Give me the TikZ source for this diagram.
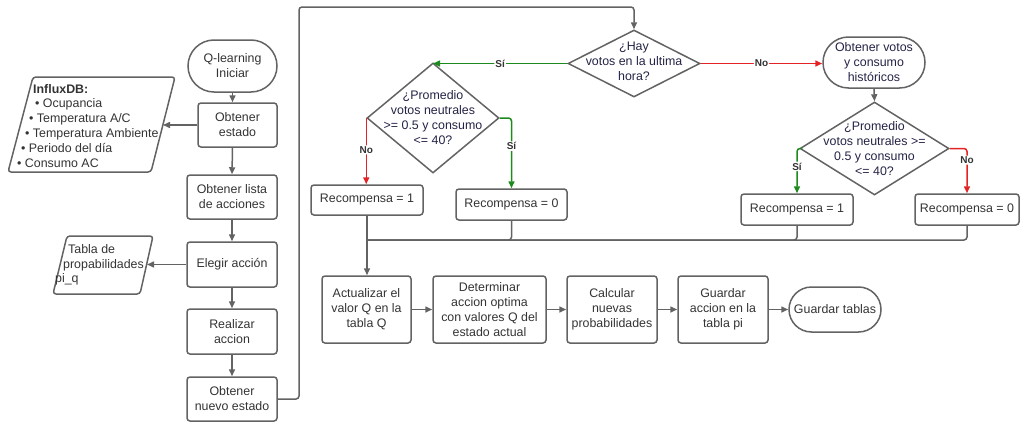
\documentclass[tikz,border=0pt]{standalone}
\usepackage{fontspec}
\setmainfont{Liberation Sans}
\usetikzlibrary{arrows.meta,shapes.geometric,shapes.misc}
\definecolor{ln}{RGB}{99,99,99}
\definecolor{tx}{RGB}{51,51,51}
\definecolor{nv}{RGB}{35,35,70}
\definecolor{rd}{RGB}{228,36,36}
\definecolor{gn}{RGB}{28,138,28}
\begin{document}
\begin{tikzpicture}[x=1pt,y=-1pt,
 font=\fontsize{12.4}{15}\selectfont,
 box/.style={draw=ln, line width=1.5pt, rounded corners=3pt, rectangle, text=tx, align=center, inner sep=0pt},
 term/.style={draw=ln, line width=1.5pt, rounded rectangle, text=tx, align=center, inner sep=0pt},
 dia/.style={draw=ln, line width=1.5pt, diamond, inner sep=0pt},
 dtext/.style={text=nv, align=center, inner sep=0pt},
 ltext/.style={text=tx, anchor=base west, inner sep=0pt},
 conn/.style={draw=ln, line width=1.5pt, rounded corners=3pt},
 arr/.style={conn, -{Triangle[length=7pt,width=6pt]}},
 redarr/.style={arr, draw=rd},
 grnarr/.style={arr, draw=gn},
 lab/.style={fill=white, font=\fontsize{10}{12}\selectfont\bfseries, text=tx, inner sep=1pt},
 para/.style={draw=ln, line width=1.5pt, rounded corners=3pt},
]
\useasboundingbox (0,0) rectangle (1021,423);

% left column
\node[term, minimum width=89, minimum height=52] (start) at (232.5,66) {Q-learning\\Iniciar};
\node[box, minimum width=79, minimum height=44] (estado) at (237.5,125) {Obtener\\estado};
\node[box, minimum width=90, minimum height=44] (lista) at (232,197) {Obtener lista\\de acciones};
\node[box, minimum width=90, minimum height=45] (elegir) at (232,264.5) {Elegir acción};
\node[box, minimum width=90, minimum height=45] (realizar) at (232,331.5) {Realizar\\accion};
\node[box, minimum width=90, minimum height=44] (nuevo) at (232,399) {Obtener\\nuevo estado};

% InfluxDB parallelogram
\draw[para] (33,77) -- (175,77) -- (151,172) -- (8,172) -- cycle;
\coordinate (influxE) at (163,125);
\node[ltext, font=\fontsize{12.4}{15}\selectfont\bfseries] (i0) at (33,93.5) {InfluxDB:};
\node[ltext] (i1) at (35,107.5) {• Ocupancia};
\node[ltext] (i2) at (29,122.5) {• Temperatura A/C};
\node[ltext] (i3) at (25,137.5) {• Temperatura Ambiente};
\node[ltext] (i4) at (21,152.5) {• Periodo del día};
\node[ltext] (i5) at (17,167.5) {• Consumo AC};

% Tabla parallelogram
\draw[para] (67,236) -- (153,236) -- (140,294) -- (53,294) -- cycle;
\coordinate (tablaE) at (147,264.5);
\node[ltext] (t1) at (68,253.5) {Tabla de};
\node[ltext] (t2) at (63,268) {propabilidades};
\node[ltext] (t3) at (55,282.5) {pi\_q};

% decisions
\node[dia, minimum width=132, minimum height=67] (d1) at (634,63.5) {};
\node[dtext] (d1t) at (634,61) {¿Hay\\votos en la ultima\\hora?};
\node[dia, minimum width=132, minimum height=110] (d2) at (433,118) {};
\node[dtext] (d2t) at (433,117.5) {¿Promedio\\votos neutrales\\>= 0.5 y consumo\\<= 40?};
\node[term, minimum width=102, minimum height=51, text=nv] (votos) at (874,62.5) {Obtener votos\\y consumo\\históricos};
\node[dia, minimum width=149, minimum height=93] (d3) at (874.5,148.5) {};
\node[dtext] (d3t) at (874.5,149) {¿Promedio\\votos neutrales >=\\0.5 y consumo\\<= 40?};

% rewards
\node[box, minimum width=112, minimum height=30] (rec1L) at (367,200) {Recompensa = 1};
\node[box, minimum width=111, minimum height=31] (rec0L) at (511.5,204.5) {Recompensa = 0};
\node[box, minimum width=112, minimum height=31] (rec1R) at (797,209.5) {Recompensa = 1};
\node[box, minimum width=104, minimum height=31] (rec0R) at (967,209.5) {Recompensa = 0};

% bottom row
\node[box, minimum width=89, minimum height=67] (act) at (366.5,309.5) {Actualizar el\\valor Q en la\\tabla Q};
\node[box, minimum width=113, minimum height=67] (det) at (489.5,309.5) {Determinar\\accion optima\\con valores Q del\\estado actual};
\node[box, minimum width=90, minimum height=67] (calc) at (612,309.5) {Calcular\\nuevas\\probabilidades};
\node[box, minimum width=90, minimum height=67] (guard) at (723,309.5) {Guardar\\accion en la\\tabla pi};
\node[term, minimum width=92, minimum height=45] (tablas) at (835,309.5) {Guardar tablas};

% left column connectors
\draw[arr] (start.south) -- (start.south |- estado.north);
\draw[arr] (start.south |- estado.south) -- (lista.north);
\draw[arr] (lista) -- (elegir);
\draw[arr] (elegir) -- (realizar);
\draw[arr] (realizar) -- (nuevo);
\draw[arr] (estado.west) -- (influxE);
\draw[arr] (elegir.west) -- (tablaE);

% loop to first decision
\coordinate (lp) at (299,7);
\draw[arr] (nuevo.east) -| (lp) -| (d1.north);

% decision branches
\draw[grnarr] (d1.west) -- node[lab] (ls1) {Sí} (d1.west -| d2.north);
\draw[redarr] (d1.east) -- node[lab] (ln1) {No} (d1.east -| votos.west);
\draw[redarr] (d2.west) -- node[lab, pos=0.48] (ln2) {No} (d2.west |- rec1L.north);
\draw[grnarr] (d2.east) -| node[lab, pos=0.7] (ls2) {Sí} (rec0L.north);
\draw[arr] (votos.south) -- (d3.north);
\draw[grnarr] (d3.west) -| node[lab, pos=0.7] (ls3) {Sí} (rec1R.north);
\draw[redarr] (d3.east) -| node[lab, pos=0.63] (ln3) {No} (rec0R.north);

% merge
\coordinate (m) at (366.5,240);
\draw[conn] (rec0L.south) |- (m);
\draw[conn] (rec1R.south) |- (m);
\draw[conn] (rec0R.south) |- (m);
\draw[arr] (rec1L.south) -- (rec1L.south |- act.north);

% bottom row connectors
\draw[arr] (act) -- (det);
\draw[arr] (det) -- (calc);
\draw[arr] (calc) -- (guard);
\draw[arr] (guard) -- (tablas);
\end{tikzpicture}
\end{document}
